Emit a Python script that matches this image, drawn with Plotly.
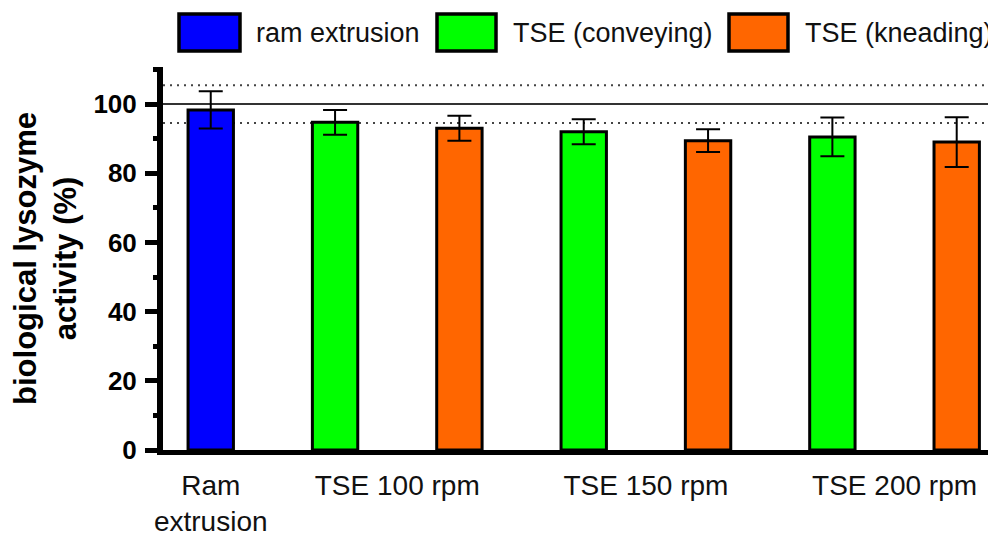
import plotly.graph_objects as go

# ---- data ----
bar_types = ["ram extrusion", "TSE (conveying)", "TSE (kneading)",
             "TSE (conveying)", "TSE (kneading)",
             "TSE (conveying)", "TSE (kneading)"]
means = [98.3, 94.7, 93.0, 92.0, 89.4, 90.5, 89.0]
errors = [5.4, 3.6, 3.6, 3.6, 3.3, 5.6, 7.2]
group_labels = ["Ram<br>extrusion", "TSE 100 rpm", "TSE 150 rpm", "TSE 200 rpm"]
group_members = [[0], [1, 2], [3, 4], [5, 6]]
ref_solid = [100]
ref_dotted = [94.5, 105.4]
legend_names = ["ram extrusion", "TSE (conveying)", "TSE (kneading)"]
colors = {"ram extrusion": "#0000FF", "TSE (conveying)": "#00FF00", "TSE (kneading)": "#FF6600"}

FONT = "Liberation Sans, Arial, sans-serif"
OFF = 8  # page body margin
W, H = 996 - OFF, 541 - OFF
ML, MT = 163 - OFF, 67 - OFF
PLOT_BOTTOM = 450 - OFF
MB = H - PLOT_BOTTOM
MR = 0
PW, PH = W - ML - MR, H - MT - MB

fig = go.Figure()
for name in legend_names:
    idx = [i for i, t in enumerate(bar_types) if t == name]
    fig.add_trace(go.Bar(
        x=idx, y=[means[i] for i in idx], name=name,
        width=0.365,
        marker=dict(color=colors[name], line=dict(color="black", width=3)),
        error_y=dict(type="data", array=[errors[i] for i in idx], visible=True,
                     color="black", thickness=2, width=12),
        showlegend=False,
    ))

for v in ref_solid:
    fig.add_shape(type="line", xref="paper", x0=0, x1=1, yref="y", y0=v, y1=v,
                  line=dict(color="#333333", width=2), layer="below")
for v in ref_dotted:
    fig.add_shape(type="line", xref="paper", x0=0, x1=1, yref="y", y0=v, y1=v,
                  line=dict(color="#444444", width=2, dash="2px,5px"), layer="below")

# custom legend (large boxes); reference pixel positions -> paper coords
def px2x(px):
    return (px - OFF - ML) / PW

def py2y(py):
    return (PLOT_BOTTOM - (py - OFF)) / PH

legend_items = [(179, 240, 254), (437, 496, 511), (729, 788, 803)]
for name, (bx0, bx1, tx) in zip(legend_names, legend_items):
    fig.add_shape(type="rect", xref="paper", yref="paper",
                  x0=px2x(bx0), x1=px2x(bx1), y0=py2y(51), y1=py2y(14),
                  fillcolor=colors[name], line=dict(color="black", width=3.5))
    fig.add_annotation(xref="paper", yref="paper", x=px2x(tx), y=py2y(33),
                       xanchor="left", yanchor="middle", showarrow=False,
                       text=name, font=dict(family=FONT, size=27, color="#111111"))

tickvals = [sum(m) / len(m) for m in group_members]

fig.update_layout(
    width=W, height=H,
    margin=dict(l=ML, r=MR, t=MT, b=MB, autoexpand=False),
    plot_bgcolor="white", paper_bgcolor="white",
    font=dict(family=FONT, color="black"),
    xaxis=dict(
        range=[-0.384, 6.316], tickvals=tickvals, ticktext=group_labels,
        showline=True, linewidth=5, linecolor="black", ticks="",
        showgrid=False, zeroline=False, ticklabelstandoff=6,
        tickfont=dict(family=FONT, size=28, color="#111111"),
    ),
    yaxis=dict(
        range=[0, 110.7], tickvals=[0, 20, 40, 60, 80, 100],
        showline=True, linewidth=6, linecolor="black",
        ticks="outside", ticklen=12, tickwidth=5, tickcolor="black",
        minor=dict(dtick=10, ticks="outside", ticklen=4, tickwidth=5, tickcolor="black"),
        showgrid=False, zeroline=False, ticklabelstandoff=3,
        tickfont=dict(family=FONT, size=26, color="black", weight="bold"),
        title=dict(text="biological lysozyme<br>activity (%)",
                   font=dict(family=FONT, size=31, color="black", weight="bold"),
                   standoff=13),
    ),
)

fig.write_html("out.html")
